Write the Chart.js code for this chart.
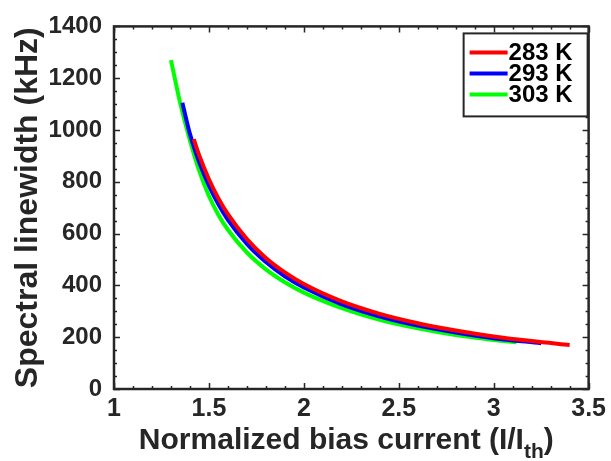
<!DOCTYPE html>
<html><head><meta charset="utf-8">
<script src="https://cdn.jsdelivr.net/npm/chart.js@4/dist/chart.umd.min.js"></script>
<style>html,body{margin:0;padding:0;background:#fff}#wrap{width:611px;height:461px}</style>
</head><body><div id="wrap"><canvas id="c" width="611" height="461"></canvas></div>
<script>
// ---- data ----
const seriesLabels = ['283 K', '293 K', '303 K'];
const seriesColors = ['#ff0000', '#0000ff', '#00ff00'];

const x283 = [1.42, 1.45, 1.5, 1.55, 1.6, 1.7, 1.8, 1.9, 2.0, 2.2, 2.4, 2.6, 2.8, 3.0, 3.2, 3.4];
const y283 = [965, 900, 810, 736, 675, 579, 506, 450, 405, 338, 290, 254, 226, 203, 185, 170];

const x293 = [1.36, 1.4, 1.45, 1.5, 1.55, 1.6, 1.7, 1.8, 1.9, 2.0, 2.2, 2.4, 2.6, 2.8, 3.0, 3.25];
const y293 = [1105, 985, 873, 785, 713, 653, 560, 490, 435, 392, 327, 280, 245, 218, 196, 177];

const x303 = [1.3, 1.35, 1.4, 1.45, 1.5, 1.55, 1.6, 1.7, 1.8, 1.9, 2.0, 2.2, 2.4, 2.6, 2.8, 3.0, 3.12];
const y303 = [1270, 1100, 960, 840, 745, 672, 615, 527, 462, 412, 372, 312, 267, 234, 208, 189, 180];

const xTickLabels = [1, 1.5, 2, 2.5, 3, 3.5];
const yTickLabels = [0, 200, 400, 600, 800, 1000, 1200, 1400];

const xTitleMain = 'Normalized bias current (I/I';
const xTitleSub = 'th';
const xTitleEnd = ')';
const yTitle = 'Spectral linewidth (kHz)';

// ---- chart ----
const FONT = "'Liberation Sans', Arial, Helvetica, sans-serif";
const INK = '#262626';

function pts(xs, ys) { return xs.map((x, i) => ({ x: x, y: ys[i] })); }

const datasets = [[x283, y283], [x293, y293], [x303, y303]].map((d, i) => ({
  label: seriesLabels[i],
  data: pts(d[0], d[1]),
  borderColor: seriesColors[i],
  backgroundColor: seriesColors[i],
  borderWidth: 4,
  pointRadius: 0,
  fill: false,
  cubicInterpolationMode: 'monotone',
  borderCapStyle: 'butt'
}));

const framePlugin = {
  id: 'frame',
  afterDatasetsDraw(chart) {
    const { ctx, chartArea: a, scales } = chart;
    const xs = scales.x, ys = scales.y;
    ctx.save();
    ctx.strokeStyle = INK;
    ctx.lineWidth = 1.5;
    ctx.beginPath();
    const xMin = xs.min, xMax = xs.max, yMin = ys.min, yMax = ys.max;
    for (let k = 0; k <= Math.round((xMax - xMin) / 0.1); k++) {
      const v = xMin + k * 0.1;
      const px = Math.round(xs.getPixelForValue(v)) + 0.5;
      const major = xTickLabels.some(t => Math.abs(t - v) < 1e-6);
      const len = major ? 6 : 3;
      ctx.moveTo(px, a.bottom); ctx.lineTo(px, a.bottom - len);
      ctx.moveTo(px, a.top); ctx.lineTo(px, a.top + len);
    }
    for (let k = 0; k <= Math.round((yMax - yMin) / 50); k++) {
      const v = yMin + k * 50;
      const py = Math.round(ys.getPixelForValue(v)) + 0.5;
      const major = yTickLabels.some(t => Math.abs(t - v) < 1e-6);
      const len = major ? 6 : 3;
      ctx.moveTo(a.left, py); ctx.lineTo(a.left + len, py);
      ctx.moveTo(a.right, py); ctx.lineTo(a.right - len, py);
    }
    ctx.stroke();
    ctx.lineWidth = 2.5;
    ctx.strokeRect(a.left, a.top, a.right - a.left, a.bottom - a.top);

    // legend box
    const bw = 124, bh = 83;
    const bx = a.right - 1 - bw, by = a.top + 7;
    ctx.fillStyle = '#fff';
    ctx.fillRect(bx, by, bw, bh);
    ctx.lineWidth = 2;
    ctx.strokeStyle = INK;
    ctx.strokeRect(bx, by, bw, bh);
    ctx.font = 'bold 24px ' + FONT;
    ctx.textBaseline = 'middle';
    ctx.textAlign = 'left';
    chart.data.datasets.forEach((ds, i) => {
      const cy = by + 19 + i * 21;
      ctx.strokeStyle = ds.borderColor;
      ctx.lineWidth = 4;
      ctx.beginPath();
      ctx.moveTo(bx + 6, cy); ctx.lineTo(bx + 44, cy);
      ctx.stroke();
      ctx.fillStyle = '#000';
      ctx.fillText(ds.label, bx + 45, cy + 1);
    });

    // x-axis title with subscript
    const mainF = 'bold 30px ' + FONT, subF = 'bold 21px ' + FONT;
    ctx.font = mainF; const w1 = ctx.measureText(xTitleMain).width; const w3 = ctx.measureText(xTitleEnd).width;
    ctx.font = subF; const w2 = ctx.measureText(xTitleSub).width;
    const total = w1 + w2 + w3;
    let tx = (a.left + a.right) / 2 - total / 2 - 5;
    const base = 449;
    ctx.fillStyle = INK;
    ctx.textBaseline = 'alphabetic';
    ctx.font = mainF; ctx.fillText(xTitleMain, tx, base); tx += w1;
    ctx.font = subF; ctx.fillText(xTitleSub, tx, base + 9); tx += w2;
    ctx.font = mainF; ctx.fillText(xTitleEnd, tx, base);
    ctx.restore();
  }
};

new Chart(document.getElementById('c'), {
  type: 'line',
  data: { datasets: datasets },
  plugins: [framePlugin],
  options: {
    responsive: false,
    animation: false,
    devicePixelRatio: 1,
    layout: { padding: { top: 26, right: 21, left: 0, bottom: 0 } },
    plugins: { legend: { display: false }, tooltip: { enabled: false } },
    scales: {
      x: {
        type: 'linear', min: 1, max: 3.5,
        afterBuildTicks: s => { s.ticks = xTickLabels.map(v => ({ value: v })); },
        afterFit: s => { s.height = 72; },
        grid: { display: false, drawTicks: false },
        border: { display: false },
        ticks: { color: INK, font: { family: FONT, size: 25, weight: 'bold' }, padding: 5, maxRotation: 0, autoSkip: false, callback: v => String(v) },
        title: { display: false }
      },
      y: {
        type: 'linear', min: 0, max: 1400,
        afterBuildTicks: s => { s.ticks = yTickLabels.map(v => ({ value: v })); },
        afterFit: s => { s.width = 114; },
        grid: { display: false, drawTicks: false },
        border: { display: false },
        ticks: { color: INK, font: { family: FONT, size: 24, weight: 'bold' }, padding: 12, autoSkip: false, callback: v => String(v) },
        title: { display: true, text: yTitle, color: INK, font: { family: FONT, size: 32, weight: 'bold', lineHeight: 1 }, padding: { top: 12, bottom: 0 } }
      }
    }
  }
});
</script>
</body></html>
